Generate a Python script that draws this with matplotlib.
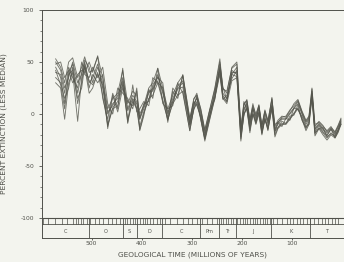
import matplotlib
matplotlib.use("Agg")
import matplotlib.pyplot as plt

# ---- data ----
time_my = [572,562,554,546,538,528,520,514,505,498,
           488,478,468,458,448,438,428,418,410,404,
           396,386,378,368,358,348,338,328,318,304,
           296,290,282,274,264,254,244,238,230,220,
           210,202,196,190,184,178,172,166,160,154,
           148,140,134,128,120,112,104,96,88,80,
           72,66,60,54,46,38,30,22,14,8,
           2]

s1 = [45,35,10,40,48,20,40,50,30,35,
      48,25,0,10,15,35,5,18,12,-5,
      5,20,25,38,20,0,15,25,30,-8,
      10,15,0,-20,0,20,45,20,15,40,
      40,-18,5,10,-10,5,-5,5,-15,0,
      -10,10,-15,-10,-5,-5,0,5,10,0,
      -10,-5,20,-15,-10,-15,-20,-15,-20,-15,
      -8]
s2 = [53,45,30,50,54,35,45,55,40,42,
      55,35,5,15,20,42,10,22,18,0,
      8,25,30,44,25,5,18,30,37,-5,
      15,18,5,-15,5,25,53,25,20,45,
      50,-12,10,13,-5,8,0,8,-10,3,
      -7,15,-12,-6,-2,-3,3,10,14,3,
      -6,-2,25,-10,-8,-12,-16,-12,-18,-12,
      -5]
s3 = [30,25,-5,30,40,-7,35,45,20,25,
      40,18,-10,5,8,28,-5,12,5,-15,
      0,15,18,30,12,-5,10,18,22,-16,
      5,10,-5,-26,-5,15,38,15,10,32,
      35,-26,0,5,-18,0,-10,0,-20,-5,
      -15,5,-22,-14,-10,-10,-5,0,5,-5,
      -16,-10,15,-21,-14,-20,-25,-20,-23,-18,
      -10]
s4 = [40,38,20,45,35,25,50,38,35,45,
      35,45,10,0,25,20,15,5,25,-5,
      10,12,35,30,25,-8,22,15,38,-4,
      12,8,-2,-22,4,14,48,26,14,38,
      45,-20,12,4,-12,6,-8,8,-16,-6,
      -12,16,-18,-8,-12,-4,-6,6,4,-2,
      -12,-10,22,-18,-14,-13,-22,-19,-21,-16,
      -6]
s5 = [50,42,25,35,50,30,38,52,45,30,
      45,30,2,8,18,32,3,15,10,-3,
      7,22,22,36,22,2,12,27,32,-10,
      8,16,2,-18,-2,22,42,18,12,42,
      38,-15,3,12,-8,6,-3,6,-12,2,
      -8,8,-14,-8,-4,-4,1,6,12,1,
      -8,-4,18,-14,-9,-14,-18,-14,-19,-13,
      -7]
s6 = [35,30,15,25,45,10,30,48,25,38,
      30,38,-14,18,2,25,12,8,22,-16,
      -2,24,15,44,10,5,8,30,20,-16,
      6,18,-6,-24,-1,17,40,14,18,34,
      42,-22,-2,9,-14,0,-7,2,-19,-3,
      -16,7,-16,-13,-7,-9,-2,-1,9,-6,
      -13,-7,19,-17,-11,-17,-21,-14,-23,-17,
      -9]
s7 = [48,50,35,42,30,38,42,40,50,40,
      56,15,-5,20,5,44,-9,28,2,5,
      12,8,28,35,30,-4,25,18,37,-10,
      14,20,4,-16,4,24,50,24,22,44,
      48,-14,8,14,-6,10,-2,9,-12,4,
      -6,14,-10,-8,-3,-2,4,8,13,2,
      -7,-3,24,-12,-7,-11,-17,-13,-17,-11,
      -4]
s8 = [42,28,5,38,42,15,25,46,32,28,
      38,28,-12,6,12,30,-8,14,6,-12,
      2,14,24,32,14,-6,12,24,26,-12,
      4,12,-4,-24,-4,16,44,16,12,38,
      36,-24,0,6,-16,1,-9,2,-18,-4,
      -14,6,-20,-13,-9,-9,-4,1,6,-4,
      -14,-9,17,-19,-13,-18,-23,-18,-22,-16,
      -10]
series = [s1, s2, s3, s4, s5, s6, s7, s8]

stage_bounds = [598,587,573,560,550,537,531,527,522,517,510,503,493,485,477,
                467,460,451,443,433,429,423,418,413,403,398,393,389,383,377,
                370,363,353,343,330,317,307,
                300,290,280,270,260,250,242,237,231,227,222,217,210,203,198,
                193,189,183,178,173,169,163,158,153,149,143,137,130,120,110,
                103,97,90,83,77,70,63,55,47,40,33,27,20,13,7]
period_bounds = [600, 505, 438, 410, 360, 283, 245, 212, 142, 63, 0]
period_names = ["C", "O", "S", "D", "C", "Pm", "Tr", "J", "K", "T"]
x_ticks = [500, 400, 300, 200, 100]
y_ticks = [100, 50, 0, -50, -100]

# ---- style ----
bg = "#f3f4ee"
ink = "#4f504a"
line_col = "#55564d"

fig = plt.figure(figsize=(3.44, 2.62), dpi=100, facecolor=bg)
ax = fig.add_axes([0.121, 0.092, 0.879, 0.870], facecolor=bg)

for s in series:
    ax.plot(time_my, s, color=line_col, lw=0.65, alpha=0.8)

ax.set_xlim(600, -4)
ax.set_ylim(-119, 100)

# geological time strip
ax.axhline(-100, color=ink, lw=0.8)
ax.axhline(-105.5, color=ink, lw=0.6)
for sb in stage_bounds:
    ax.plot([sb, sb], [-100, -105.5], color=ink, lw=0.5)
for pb in period_bounds[1:-1]:
    ax.plot([pb, pb], [-100, -119], color=ink, lw=0.6)
for (a, b), name in zip(zip(period_bounds[:-1], period_bounds[1:]), period_names):
    ax.text((a + b) / 2, -112.5, name, ha="center", va="center",
            fontsize=3.6, color=ink)

ax.spines["right"].set_visible(False)
for sp in ["left", "top", "bottom"]:
    ax.spines[sp].set_color(ink)
    ax.spines[sp].set_linewidth(0.7)

ax.set_yticks(y_ticks)
ax.set_yticklabels([str(v) for v in y_ticks])
ax.set_yticks(list(range(-100, 101, 10)), minor=True)
ax.set_xticks(x_ticks)
ax.set_xticklabels([str(v) for v in x_ticks])
ax.tick_params(axis="y", which="major", direction="out", length=2.5, width=0.6,
               colors=ink, labelsize=4.3, pad=3)
ax.tick_params(axis="y", which="minor", direction="out", length=1.8, width=0.5,
               colors=ink)
ax.tick_params(axis="x", which="major", direction="out", length=1.5, width=0.6,
               colors=ink, labelsize=4.3, pad=0.5)

ax.set_ylabel("PERCENT EXTINCTION (LESS MEDIAN)", fontsize=5.4, color=ink, labelpad=10)
ax.set_xlabel("GEOLOGICAL TIME (MILLIONS OF YEARS)", fontsize=5.3, color=ink, labelpad=4)

fig.savefig("out.png", dpi=100, facecolor=bg)
